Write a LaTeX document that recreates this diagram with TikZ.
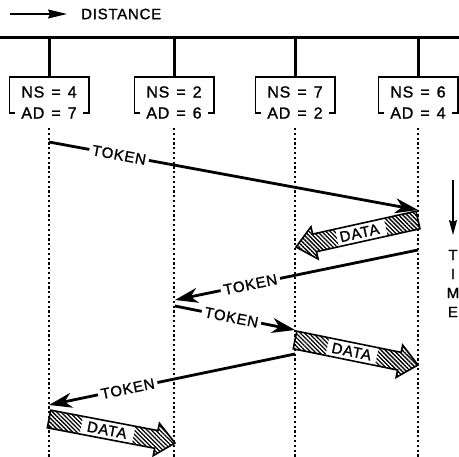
\documentclass[tikz,border=0pt]{standalone}
\usepackage{fontspec}
\setmainfont{Liberation Sans}
\newfontfamily\lblfont[LetterSpace=5,FakeBold=1.2]{Liberation Sans}
\usetikzlibrary{arrows.meta,calc,patterns.meta}
\tikzset{
  lbl/.style={font=\lblfont\fontsize{15}{15}\selectfont, inner sep=0pt},
  boxtxt/.style={font=\lblfont\fontsize{16}{16}\selectfont, inner sep=1pt},
  lifeline/.style={line width=1.3pt, dash pattern=on 2.2pt off 2.6pt},
  bus/.style={line width=3pt},
  boxline/.style={line width=1.6pt},
  stationbox/.style={minimum width=79pt, minimum height=36pt, inner sep=0pt},
  tok/.style={line width=2.8pt, -{Stealth[length=23pt,width=15pt,inset=7pt]}},
  toklbl/.style={font=\lblfont\fontsize{15}{15}\selectfont, sloped, fill=white, inner sep=3pt},
  hatch/.style={pattern={Lines[angle=-45,distance=3pt,line width=1.3pt]}},
  dataout/.style={line width=1.6pt, line join=miter},
}
\newcommand\dataarrow[4]{%
  \coordinate (#3ta) at ($(#1)!33pt!(#2)$);
  \coordinate (#3hh) at ($(#2)!42pt!(#1)$);
  \coordinate (#3hb) at ($(#2)!19pt!(#1)$);
  \path[hatch] ($(#1)!9pt!90:(#2)$) -- ($(#3ta)!9pt!90:(#2)$) -- ($(#3ta)!9pt!-90:(#2)$) -- ($(#1)!9pt!-90:(#2)$) -- cycle;
  \path[hatch] ($(#3hh)!9pt!90:(#2)$) -- ($(#3hb)!9pt!90:(#2)$) -- ($(#3hb)!16.5pt!90:(#2)$) -- (#2)
     -- ($(#3hb)!16.5pt!-90:(#2)$) -- ($(#3hb)!9pt!-90:(#2)$) -- ($(#3hh)!9pt!-90:(#2)$) -- cycle;
  \draw[dataout] ($(#1)!9pt!90:(#2)$) -- ($(#3hb)!9pt!90:(#2)$) -- ($(#3hb)!16.5pt!90:(#2)$) -- (#2)
     -- ($(#3hb)!16.5pt!-90:(#2)$) -- ($(#3hb)!9pt!-90:(#2)$) -- ($(#1)!9pt!-90:(#2)$) -- cycle;
  \path (#1) -- node[lbl, sloped, pos=#4] (#3txt) {DATA} (#2);
}
\begin{document}
\begin{tikzpicture}[x=1pt,y=-1pt]
\useasboundingbox (0,0) rectangle (459,457);

% distance arrow
\coordinate (da) at (10,14);
\coordinate (db) at (67,14);
\draw[line width=1.3pt, -{Stealth[length=19pt,width=9pt,inset=2pt]}] (da) -- (db);
\node[lbl, anchor=west] (dist) at (81,14) {DISTANCE};

% bus
\coordinate (busL) at (0,38);
\coordinate (busR) at (459,38);
\draw[bus] (busL) -- (busR);

% stations
\foreach \i/\x/\ns/\ad in {1/49/4/7, 2/174/2/6, 3/295/7/2, 4/418/6/4}{
  \node[stationbox] (b\i) at (\x,95) {};
  \coordinate (bus\i) at (\x,38);
  \draw[bus] (bus\i) -- (b\i.north);
  \draw[boxline] ([xshift=6pt]b\i.south west) -- (b\i.south west) -- (b\i.north west)
     -- (b\i.north east) -- (b\i.south east) -- ([xshift=-6pt]b\i.south east);
  \node[boxtxt] (ns\i) at (\x,92) {NS\hspace{7pt}=\hspace{7pt}\ns};
  \node[boxtxt] (ad\i) at (\x,113) {AD\hspace{7pt}=\hspace{7pt}\ad};
  \coordinate (l\i) at (\x,128);
  \coordinate (le\i) at (\x,457);
  \draw[lifeline] (l\i) -- (le\i);
}

% events
\coordinate (t1a) at (49,142);
\coordinate (t1b) at (418,210);
\coordinate (d1a) at (418,220);
\coordinate (d1b) at (296,247);
\coordinate (t2a) at (418,250);
\coordinate (t2b) at (175,300);
\coordinate (t3a) at (175,306);
\coordinate (t3b) at (295,330);
\coordinate (d2a) at (295,340);
\coordinate (d2b) at (418,365);
\coordinate (t4a) at (295,354);
\coordinate (t4b) at (49,405);
\coordinate (d3a) at (49,419);
\coordinate (d3b) at (175,443);

\draw[tok] (t1a) -- node[toklbl, pos=0.19] (tk1) {TOKEN} (t1b);
\dataarrow{d1a}{d1b}{da1}{0.48}
\draw[tok] (t2a) -- node[toklbl, pos=0.69] (tk2) {TOKEN} (t2b);
\draw[tok] (t3a) -- node[toklbl, pos=0.47] (tk3) {TOKEN} (t3b);
\dataarrow{d2a}{d2b}{da2}{0.46}
\draw[tok] (t4a) -- node[toklbl, pos=0.68] (tk4) {TOKEN} (t4b);
\dataarrow{d3a}{d3b}{da3}{0.46}

% time arrow
\coordinate (ta) at (453,180);
\coordinate (tb) at (453,235);
\draw[line width=1.3pt, -{Stealth[length=15pt,width=8pt,inset=2pt]}] (ta) -- (tb);
\node[lbl] (tmT) at (453,255) {T};
\node[lbl] (tmI) at (453,274) {I};
\node[lbl] (tmM) at (453,293) {M};
\node[lbl] (tmE) at (453,312) {E};
\end{tikzpicture}
\end{document}
